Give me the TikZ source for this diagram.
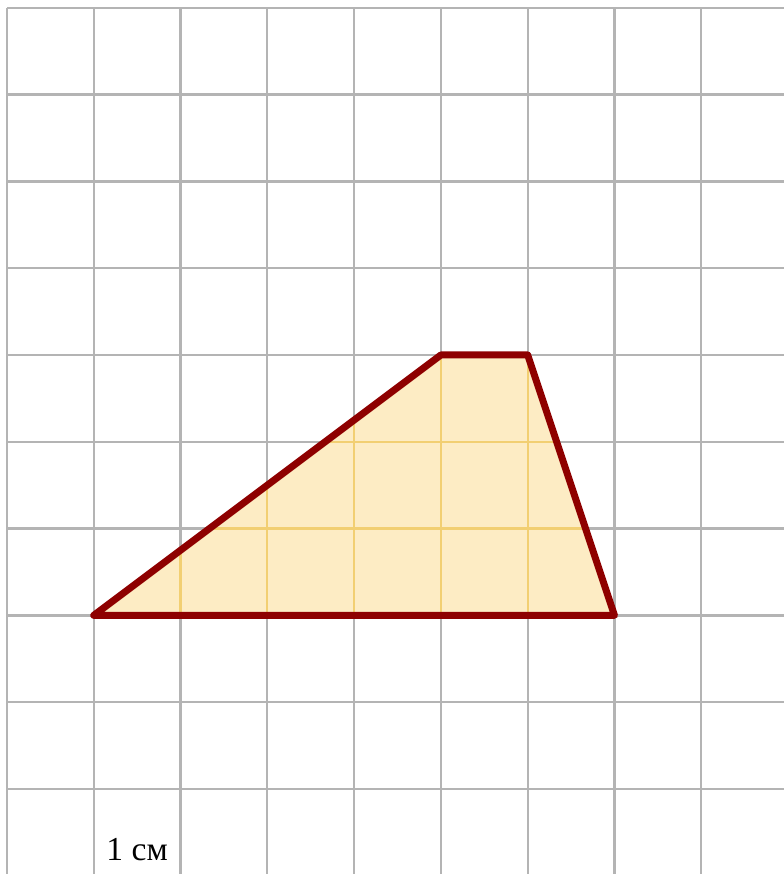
\documentclass[tikz,border=0pt]{standalone}
\usepackage{xcolor}
\usepackage{fontspec}
\setmainfont{Liberation Serif}
\usepackage{tikz}
\usetikzlibrary{positioning}
\definecolor{GridGray}{HTML}{B4B4B4}
\definecolor{GridGold}{HTML}{F2CF72}
\definecolor{SoftCream}{HTML}{FDECC4}
\definecolor{EdgeRed}{HTML}{8E0000}
\tikzset{
  GR/.style={draw=GridGray,line width=0.75pt},
  GY/.style={draw=GridGold,line width=0.75pt},
  TZ/.style={draw=EdgeRed,line width=2.3pt,line join=round,line cap=round},
  LB/.style={font=\fontsize{11}{13}\selectfont,inner sep=0pt}
}

\begin{document}
\begin{tikzpicture}
  \useasboundingbox (-0.08,-9.98) rectangle (8.95,0.09);
  \draw[GR,step=1] (0,-9.98) grid (8.95,0);

  \coordinate (A) at (1,-7);
  \coordinate (B) at (5,-4);
  \coordinate (C) at (6,-4);
  \coordinate (D) at (7,-7);

  \begin{scope}
    \clip (A)--(B)--(C)--(D)--cycle;
    \fill[SoftCream] (A)--(B)--(C)--(D)--cycle;
    \draw[GY,step=1] (0,-9) grid (8,0);
  \end{scope}
  \draw[TZ] (A)--(B)--(C)--(D)--cycle;

  \node[LB] (cm) at (1.5,-9.7) {1 см};
\end{tikzpicture}
\end{document}
